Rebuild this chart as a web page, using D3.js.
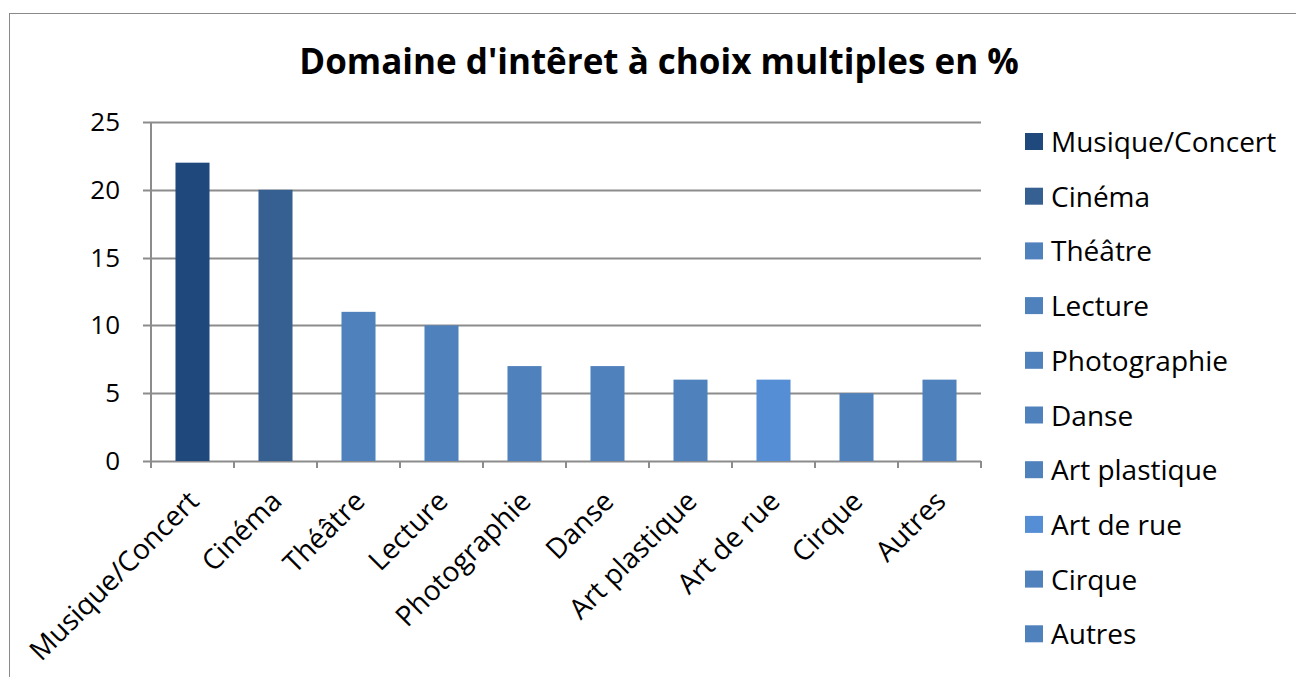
<!DOCTYPE html>
<html>
<head>
  <meta charset="utf-8">
  <title>Domaine d'intêret à choix multiples en %</title>
  <script src="https://d3js.org/d3.v7.min.js"></script>
  <style>
    body { margin: 0; background: #fff; }
    text { font-family: "Open Sans", "Noto Sans", sans-serif; fill: #000; }
  </style>
</head>
<body>
<div id="chart"></div>
<script>
// data
var categories = ["Musique/Concert", "Cinéma", "Théâtre", "Lecture", "Photographie",
                  "Danse", "Art plastique", "Art de rue", "Cirque", "Autres"];
var values = [22, 20, 11, 10, 7, 7, 6, 6, 5, 6];
var colors = ["#1f497d", "#376092", "#4f81bd", "#4f81bd", "#4f81bd",
              "#4f81bd", "#4f81bd", "#558ed5", "#4f81bd", "#4f81bd"];
var yTicks = [0, 5, 10, 15, 20, 25];

var W = 1296, H = 677;
var margin = { top: 122, left: 151, right: 315, bottom: 216 };
var width = W - margin.left - margin.right;
var height = H - margin.top - margin.bottom;

var svg = d3.select("#chart").append("svg")
  .attr("width", W)
  .attr("height", H);

// chart frame
svg.append("rect")
  .attr("x", 9.5).attr("y", 13.5)
  .attr("width", W).attr("height", H)
  .attr("fill", "none")
  .attr("stroke", "#898989")
  .attr("stroke-width", 1);

svg.append("text")
  .attr("x", 659)
  .attr("y", 74)
  .attr("text-anchor", "middle")
  .style("font-size", "35px")
  .style("font-weight", "bold")
  .text("Domaine d'intêret à choix multiples en %");

var g = svg.append("g")
  .attr("transform", "translate(" + margin.left + "," + margin.top + ")");

var x = d3.scaleBand()
  .domain(categories)
  .range([0, width])
  .paddingInner(0.59)
  .paddingOuter(0.295);

var y = d3.scaleLinear()
  .domain([0, 25])
  .range([height, 0]);

// gridlines
g.selectAll(".grid")
  .data(yTicks)
  .enter()
  .append("line")
  .attr("x1", -8)
  .attr("x2", width)
  .attr("y1", function(d) { return Math.round(y(d)) + 0.5; })
  .attr("y2", function(d) { return Math.round(y(d)) + 0.5; })
  .attr("stroke", "#8c8c8c")
  .attr("stroke-width", 2);

// bars
g.selectAll(".bar")
  .data(values)
  .enter()
  .append("rect")
  .attr("x", function(d, i) { return x(categories[i]); })
  .attr("y", function(d) { return y(d); })
  .attr("width", x.bandwidth())
  .attr("height", function(d) { return height - y(d); })
  .attr("fill", function(d, i) { return colors[i]; });

// y axis line
g.append("line")
  .attr("x1", 0).attr("x2", 0)
  .attr("y1", 0).attr("y2", height + 7)
  .attr("stroke", "#8c8c8c")
  .attr("stroke-width", 2);

// category tick marks
var step = x.step();
g.selectAll(".xtick")
  .data(d3.range(categories.length + 1))
  .enter()
  .append("line")
  .attr("x1", function(i) { return i * step; })
  .attr("x2", function(i) { return i * step; })
  .attr("y1", height)
  .attr("y2", height + 7)
  .attr("stroke", "#8c8c8c")
  .attr("stroke-width", 2);

// y tick labels
g.selectAll(".ylabel")
  .data(yTicks)
  .enter()
  .append("text")
  .attr("x", -31)
  .attr("y", function(d) { return y(d) + 9; })
  .attr("text-anchor", "end")
  .style("font-size", "26px")
  .text(function(d) { return d; });

// rotated category labels
g.selectAll(".xlabel")
  .data(categories)
  .enter()
  .append("text")
  .attr("text-anchor", "end")
  .attr("transform", function(d) {
    return "translate(" + (x(d) + x.bandwidth() / 2 + 8) + "," + (height + 42) + ") rotate(-45)";
  })
  .style("font-size", "28px")
  .text(function(d) { return d; });

// legend
var legend = svg.selectAll(".legend")
  .data(categories)
  .enter()
  .append("g")
  .attr("transform", function(d, i) { return "translate(1025," + (133 + i * 54.7) + ")"; });

legend.append("rect")
  .attr("width", 18)
  .attr("height", 17)
  .attr("fill", function(d, i) { return colors[i]; });

legend.append("text")
  .attr("x", 26)
  .attr("y", 19)
  .style("font-size", "28px")
  .text(function(d) { return d; });
</script>
</body>
</html>
